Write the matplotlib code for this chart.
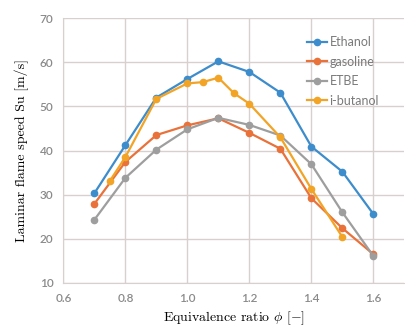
import matplotlib
matplotlib.use("Agg")
import matplotlib.pyplot as plt

plt.rcParams['mathtext.fontset'] = 'cm'

# Data
phi = [0.7, 0.8, 0.9, 1.0, 1.1, 1.2, 1.3, 1.4, 1.5, 1.6]
ethanol = [30.3, 41.2, 52.0, 56.2, 60.2, 57.8, 53.1, 40.9, 35.2, 25.6]
gasoline = [27.9, 37.4, 43.5, 45.7, 47.3, 44.0, 40.4, 29.2, 22.4, 16.5]
etbe = [24.3, 33.8, 40.2, 44.8, 47.4, 45.8, 43.4, 36.9, 26.0, 16.1]

phi_ibut = [0.75, 0.8, 0.9, 1.0, 1.05, 1.1, 1.15, 1.2, 1.3, 1.4, 1.5]
ibutanol = [33.1, 38.5, 51.7, 55.2, 55.5, 56.5, 53.0, 50.6, 43.0, 31.3, 20.4]

xticks = [0.6, 0.8, 1.0, 1.2, 1.4, 1.6]
yticks = [10, 20, 30, 40, 50, 60, 70]

fig = plt.figure(figsize=(4.06, 3.29), dpi=100)
ax = fig.add_axes([0.156, 0.140, 0.84, 0.805])

style = dict(marker='o', markersize=4.5, linewidth=1.6)
ax.plot(phi, ethanol, color='#3d8ccb', label='Ethanol', **style)
ax.plot(phi, gasoline, color='#e9713a', label='gasoline', **style)
ax.plot(phi, etbe, color='#9e9e9e', label='ETBE', **style)
ax.plot(phi_ibut, ibutanol, color='#f2a427', label='i-butanol', **style)

ax.set_xlim(0.6, 1.7)
ax.set_ylim(10, 70)
ax.set_xticks(xticks)
ax.set_yticks(yticks)
ax.set_xticklabels([f"{v:.1f}" for v in xticks])
ax.grid(True, color='#d8cfcf', linewidth=1.0)
ax.set_axisbelow(True)
for side in ['top', 'right']:
    ax.spines[side].set_visible(False)
for side in ['left', 'bottom']:
    ax.spines[side].set_color('#d8cfcf')
ax.tick_params(length=0, labelsize=8.5, labelcolor='#8a8a8a', pad=7)
for lab in ax.get_xticklabels() + ax.get_yticklabels():
    lab.set_family('Lato')
    lab.set_fontweight('semibold')

ax.set_xlabel(r"Equivalence ratio $\phi$ [$\mathbf{-}$]", family='cmr10',
              fontsize=10, labelpad=4)
ax.set_ylabel("Laminar flame speed Su [m/s]", family='cmr10',
              fontsize=10, labelpad=8)

leg = ax.legend(loc='upper left', bbox_to_anchor=(0.70, 0.95), frameon=False,
                handlelength=1.6, handletextpad=0.2, labelspacing=0.6,
                borderaxespad=0,
                prop={'family': 'Lato', 'size': 9})
for t in leg.get_texts():
    t.set_color('#7a7a7a')

fig.savefig('out.png', dpi=100)
